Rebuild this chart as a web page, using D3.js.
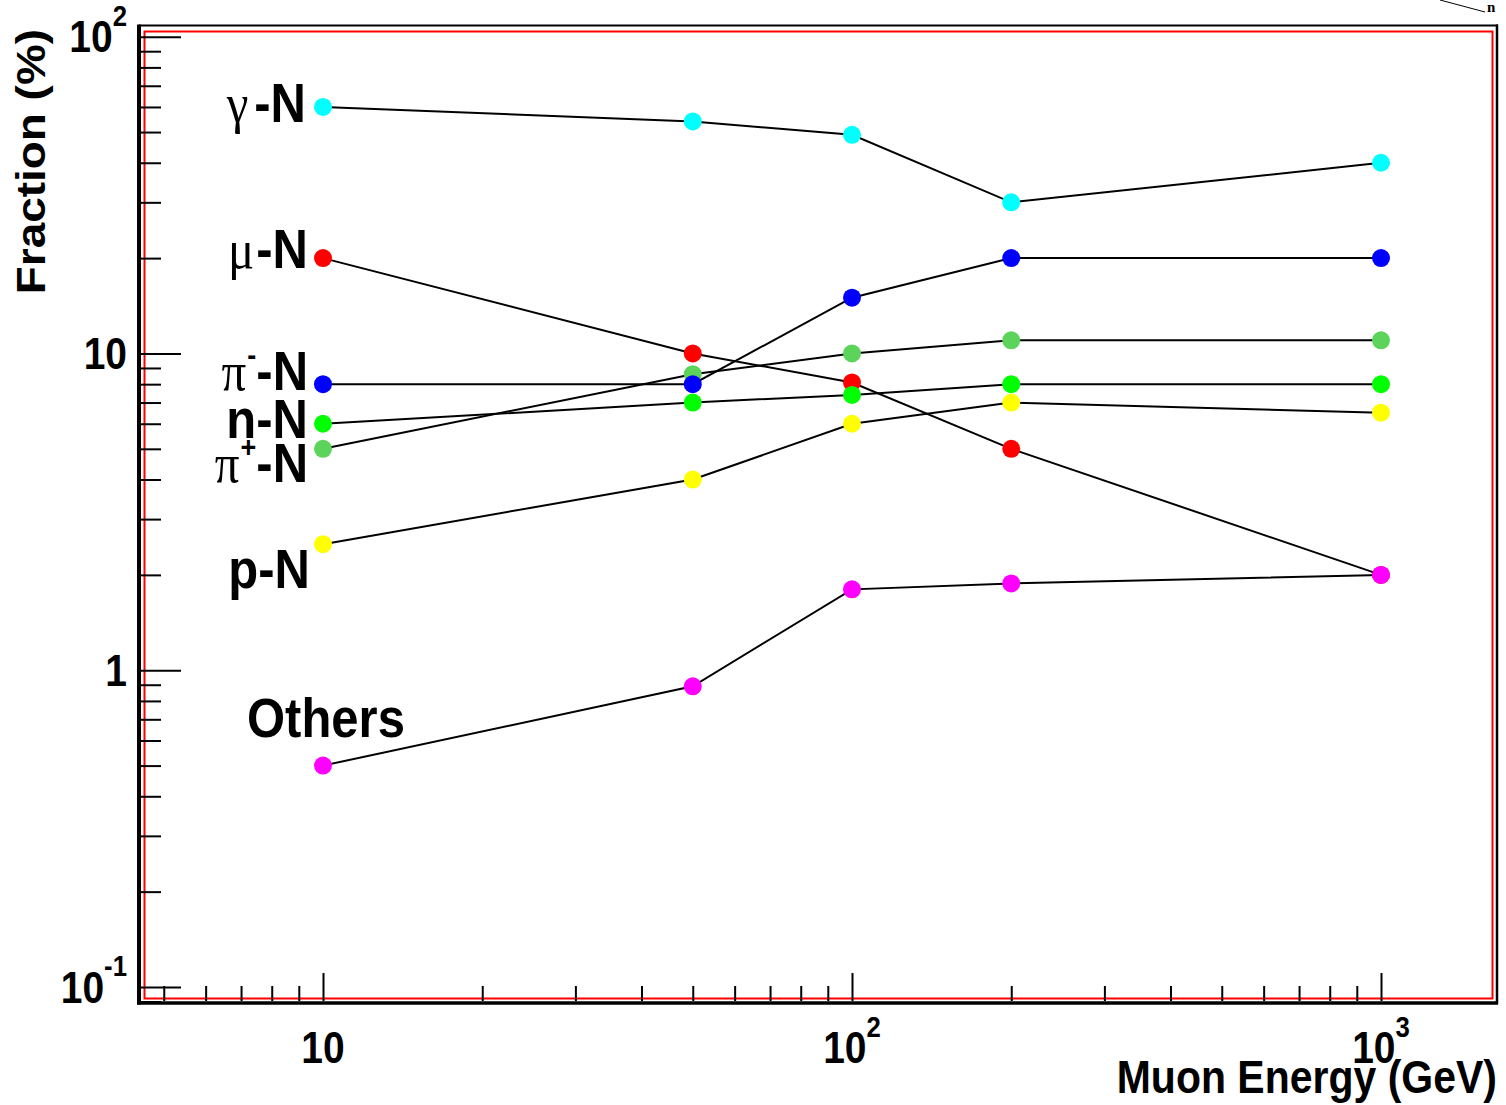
<!DOCTYPE html>
<html>
<head>
<meta charset="utf-8">
<script src="https://cdn.jsdelivr.net/npm/d3@7"></script>
<style>
  body { margin: 0; background: #fff; }
  svg { display: block; }
</style>
</head>
<body>
<div class="chart"></div>
<script>
// values (fraction in %, vs muon energy in GeV)
const energies = [10, 50, 100, 200, 1000];
const gammaN   = [60, 54, 49, 30, 40];
const muN      = [20, 10, 8.1, 5.0, 2.0];
const piMinusN = [8.0, 8.0, 15, 20, 20];
const nN       = [6.0, 7.0, 7.4, 8.0, 8.0];
const piPlusN  = [5.0, 8.6, 10, 11, 11];
const pN       = [2.5, 4.0, 6.0, 7.0, 6.5];
const othersN  = [0.5, 0.89, 1.8, 1.88, 2.0];

// drawing order (later ones on top)
const seriesNames  = ["pi+-N", "mu-N", "pi--N", "n-N", "p-N", "gamma-N", "Others"];
const seriesValues = [piPlusN, muN, piMinusN, nN, pN, gammaN, othersN];
const seriesColors = ["#5cd35a", "#ff0000", "#0000ff", "#00ff00", "#ffff00", "#00ffff", "#ff00ff"];

const xMajorTicks = [10, 100, 1000];
const xTickLabels = [["10", ""], ["10", "2"], ["10", "3"]];
const yMajorTicks = [0.1, 1, 10, 100];
const yTickLabels = [["10", "-1"], ["1", ""], ["10", ""], ["10", "2"]];

const width = 1506;
const height = 1105;
const frame = { left: 139, right: 1497, top: 25.5, bottom: 1002 };
const stretch = 1.12;  // the original picture is a bit taller than wide

const svg = d3.select(".chart").append("svg")
    .attr("width", width)
    .attr("height", height);

// log scales pinned on the decade ticks
const xScale = d3.scaleLog().domain([10, 1000]).range([323, 1381]);
const yScale = d3.scaleLog().domain([0.1, 100]).range([987, 36.7]);

// minor ticks: 2..9 of each decade inside the frame
const xMin = xScale.invert(frame.left), xMax = xScale.invert(frame.right);
const yMin = yScale.invert(frame.bottom), yMax = yScale.invert(frame.top);
const minorOf = (lo, hi) => {
    let out = [];
    for (let d = Math.floor(Math.log10(lo)); d <= Math.ceil(Math.log10(hi)); d++) {
        for (let k = 2; k <= 9; k++) {
            let v = k * Math.pow(10, d);
            if (v > lo && v < hi) out.push(v);
        }
    }
    return out;
};

// red inner frame
svg.append("rect")
    .attr("x", 144.5).attr("y", 31.5)
    .attr("width", 1492.5 - 144.5).attr("height", 998.5 - 31.5)
    .attr("fill", "none")
    .attr("stroke", "#ff0000")
    .attr("stroke-width", 2);

// axes
const axisStyle = g => {
    g.select(".domain").remove();
    g.selectAll(".tick line").attr("stroke", "#000").attr("stroke-width", 2);
    g.selectAll(".tick text").remove();
};
svg.append("g")
    .attr("transform", "translate(" + frame.left + ",0)")
    .call(d3.axisLeft(yScale).tickValues(yMajorTicks).tickSizeInner(-42).tickSizeOuter(0))
    .call(axisStyle);
svg.append("g")
    .attr("transform", "translate(" + frame.left + ",0)")
    .call(d3.axisLeft(yScale).tickValues(minorOf(yMin, yMax)).tickSizeInner(-22).tickSizeOuter(0))
    .call(axisStyle);
svg.append("g")
    .attr("transform", "translate(0," + (frame.bottom - 1) + ")")
    .call(d3.axisBottom(xScale).tickValues(xMajorTicks).tickSizeInner(-28).tickSizeOuter(0))
    .call(axisStyle);
svg.append("g")
    .attr("transform", "translate(0," + (frame.bottom - 1) + ")")
    .call(d3.axisBottom(xScale).tickValues(minorOf(xMin, xMax)).tickSizeInner(-15).tickSizeOuter(0))
    .call(axisStyle);

// black frame lines
svg.append("line").attr("x1", frame.left).attr("x2", frame.left)
    .attr("y1", frame.top - 1).attr("y2", frame.bottom + 2.5)
    .attr("stroke", "#000").attr("stroke-width", 4);
svg.append("line").attr("x1", frame.left - 2).attr("x2", frame.right + 1)
    .attr("y1", frame.bottom + 1).attr("y2", frame.bottom + 1)
    .attr("stroke", "#000").attr("stroke-width", 3.5);
svg.append("line").attr("x1", frame.left).attr("x2", frame.right + 1)
    .attr("y1", frame.top).attr("y2", frame.top)
    .attr("stroke", "#000").attr("stroke-width", 2.2);
svg.append("line").attr("x1", frame.right).attr("x2", frame.right)
    .attr("y1", frame.top - 1).attr("y2", frame.bottom + 2)
    .attr("stroke", "#000").attr("stroke-width", 2.5);

// series lines, then markers on top
const line = d3.line()
    .x((d, i) => xScale(energies[i]))
    .y(d => yScale(d));

svg.append("g").selectAll("path")
    .data(seriesValues)
    .enter()
    .append("path")
    .attr("d", d => line(d))
    .attr("fill", "none")
    .attr("stroke", "#000")
    .attr("stroke-width", 2);

seriesValues.forEach((vals, s) => {
    svg.append("g").selectAll("circle")
        .data(vals)
        .enter()
        .append("circle")
        .attr("cx", (d, i) => xScale(energies[i]))
        .attr("cy", d => yScale(d))
        .attr("r", 9)
        .attr("fill", seriesColors[s]);
});

// tick labels (Helvetica-like bold, vertically stretched)
const sans = "'Liberation Sans', Arial, Helvetica, sans-serif";
const serif = "'Liberation Serif', 'Times New Roman', serif";

const stretchedText = (x, y, anchor) => svg.append("g")
    .attr("transform", "translate(" + x + "," + y + ") scale(1," + stretch + ")")
    .append("text")
    .attr("text-anchor", anchor)
    .attr("font-family", sans)
    .attr("font-weight", "bold");

const powerLabel = (t, parts, size) => {
    t.attr("font-size", size);
    t.append("tspan").text(parts[0]);
    if (parts[1]) {
        t.append("tspan").attr("dy", -0.6 * size).attr("font-size", size * 0.66).text(parts[1]);
    }
};

yMajorTicks.forEach((v, i) => {
    let t = stretchedText(127, yScale(v) + 15.5, "end");
    powerLabel(t, yTickLabels[i], 39);
});
xMajorTicks.forEach((v, i) => {
    let t = stretchedText(xScale(v), 1063, "middle");
    powerLabel(t, xTickLabels[i], 39);
});

// axis titles
stretchedText(1497, 1093, "end")
    .attr("font-size", 41)
    .text("Muon Energy (GeV)");

svg.append("g")
    .attr("transform", "translate(45,29) scale(1," + stretch + ") rotate(-90)")
    .append("text")
    .attr("text-anchor", "end")
    .attr("font-family", sans)
    .attr("font-weight", "bold")
    .attr("font-size", 41)
    .text("Fraction (%)");

// series annotations: greek letter, superscript, rest
const annotations = [
    { greek: "\u03b3", sup: "",  rest: "-N",  x: 306, y: 122, gap: 6 },
    { greek: "\u03bc", sup: "",  rest: "-N",  x: 308, y: 268, gap: 2 },
    { greek: "\u03c0", sup: "-", rest: "-N",  x: 308, y: 390, gap: 0 },
    { greek: "",       sup: "",  rest: "n-N", x: 308, y: 438, gap: 0 },
    { greek: "\u03c0", sup: "+", rest: "-N",  x: 308, y: 482, gap: 0 },
    { greek: "",       sup: "",  rest: "p-N", x: 310, y: 588, gap: 0 }
];
annotations.forEach(a => {
    let t = stretchedText(a.x, a.y, "end").attr("font-size", 49);
    if (a.greek) {
        t.append("tspan")
            .attr("font-family", serif)
            .attr("font-weight", "normal")
            .text(a.greek);
    }
    if (a.sup) {
        t.append("tspan")
            .attr("dx", 1)
            .attr("dy", -22)
            .attr("font-size", 27)
            .text(a.sup);
        t.append("tspan").attr("dy", 22).text(a.rest);
    } else {
        t.append("tspan").attr("dx", a.gap).text(a.rest);
    }
});
stretchedText(247, 737, "start")
    .attr("font-size", 49)
    .text("Others");

// clipped piece of a stray label at the top right corner
svg.append("path")
    .attr("d", "M1440,0 L1485,12")
    .attr("stroke", "#000")
    .attr("stroke-width", 1);
svg.append("text")
    .attr("x", 1487).attr("y", 12)
    .attr("font-family", serif)
    .attr("font-weight", "bold")
    .attr("font-size", 15)
    .text("n");
</script>
</body>
</html>
